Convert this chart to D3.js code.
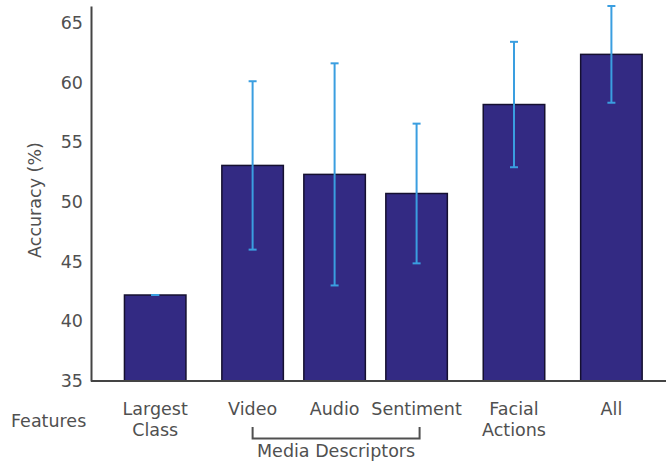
<!DOCTYPE html>
<html>
<head>
<meta charset="utf-8">
<script src="https://cdn.jsdelivr.net/npm/d3@7"></script>
<style>
  html, body { margin: 0; padding: 0; background: #fff; }
  svg { display: block; }
  text { font-family: "DejaVu Sans", sans-serif; fill: #505050; }
</style>
</head>
<body>
<svg id="chart" width="666" height="466"></svg>
<script>
// Classification accuracy per feature set (mean and spread, in %)
const categories = ["Largest\nClass", "Video", "Audio", "Sentiment", "Facial\nActions", "All"];
const groups = ["Largest Class", "Media Descriptors", "Media Descriptors", "Media Descriptors", "Facial Actions", "All"];
const accuracy = [42.2, 53.05, 52.3, 50.7, 58.15, 62.35];
const errors = [0, 7.05, 9.3, 5.85, 5.25, 4.05];
const yTicks = [35, 40, 45, 50, 55, 60, 65];
const bracketLabel = "Media Descriptors";
const rowLabel = "Features";
const yTitle = "Accuracy (%)";

const svg = d3.select("#chart");
const fontSize = 17.5;

// slot index: consecutive bars within a group sit closer than bars of different groups
const groupGap = 0.188;
let gi = 0;
const slots = categories.map((c, i) => {
  if (i > 0 && groups[i] !== groups[i - 1]) gi++;
  return i + groupGap * gi;
});

const x = d3.scaleLinear()
  .domain([0, d3.max(slots)])
  .range([155.2, 611.4]);
const barWidth = 61.5;

const y = d3.scaleLinear()
  .domain([35, 66.4])
  .range([381, 6]);

// bars
svg.append("g").selectAll("rect")
  .data(accuracy)
  .join("rect")
  .attr("x", (d, i) => x(slots[i]) - barWidth / 2)
  .attr("y", d => y(d))
  .attr("width", barWidth)
  .attr("height", d => y(35) - y(d))
  .attr("fill", "#332a83")
  .attr("stroke", "#151030")
  .attr("stroke-width", 1.5);

// error bars
const capW = 4;
const eb = svg.append("g")
  .attr("stroke", "#3a9ee0")
  .attr("stroke-width", 2)
  .attr("fill", "none");
accuracy.forEach((v, i) => {
  const cx = x(slots[i]);
  const lo = y(v - errors[i]), hi = y(v + errors[i]);
  eb.append("line").attr("x1", cx).attr("x2", cx).attr("y1", lo).attr("y2", hi);
  eb.append("line").attr("x1", cx - capW).attr("x2", cx + capW).attr("y1", lo).attr("y2", lo);
  eb.append("line").attr("x1", cx - capW).attr("x2", cx + capW).attr("y1", hi).attr("y2", hi);
});

// y axis
const yAxis = svg.append("g")
  .attr("transform", "translate(91,0)")
  .call(d3.axisLeft(y).tickValues(yTicks).tickSize(0).tickSizeOuter(0).tickPadding(8).tickFormat(d3.format("d")));
yAxis.select(".domain").attr("stroke", "#444").attr("stroke-width", 2);
yAxis.selectAll("text")
  .style("font-family", "DejaVu Sans, sans-serif")
  .style("font-size", fontSize + "px")
  .attr("fill", "#505050");

// baseline
svg.append("line")
  .attr("x1", 91).attr("x2", 666)
  .attr("y1", y(35)).attr("y2", y(35))
  .attr("stroke", "#444").attr("stroke-width", 2);

// y title
svg.append("text")
  .attr("transform", `translate(41,200) rotate(-90)`)
  .attr("text-anchor", "middle")
  .style("font-size", fontSize + "px")
  .text(yTitle);

// category labels
const lbl = svg.append("g").style("font-size", fontSize + "px").attr("text-anchor", "middle");
categories.forEach((c, i) => {
  const t = lbl.append("text").attr("x", x(slots[i])).attr("y", 415);
  c.split("\n").forEach((line, k) => {
    t.append("tspan").attr("x", x(slots[i])).attr("dy", k === 0 ? 0 : 21).text(line);
  });
});

// row label
svg.append("text")
  .attr("x", 11).attr("y", 427)
  .style("font-size", fontSize + "px")
  .text(rowLabel);

// bracket grouping the media descriptor bars
const members = groups.map((g, i) => g === bracketLabel ? i : -1).filter(i => i >= 0);
const bx0 = x(slots[members[0]]);
const bx1 = x(slots[members[members.length - 1]]) + 3;
svg.append("path")
  .attr("d", `M${bx0},427 V438.5 H${bx1} V427`)
  .attr("fill", "none")
  .attr("stroke", "#505050")
  .attr("stroke-width", 2);
svg.append("text")
  .attr("x", (bx0 + bx1) / 2).attr("y", 457)
  .attr("text-anchor", "middle")
  .style("font-size", fontSize + "px")
  .text(bracketLabel);
</script>
</body>
</html>
